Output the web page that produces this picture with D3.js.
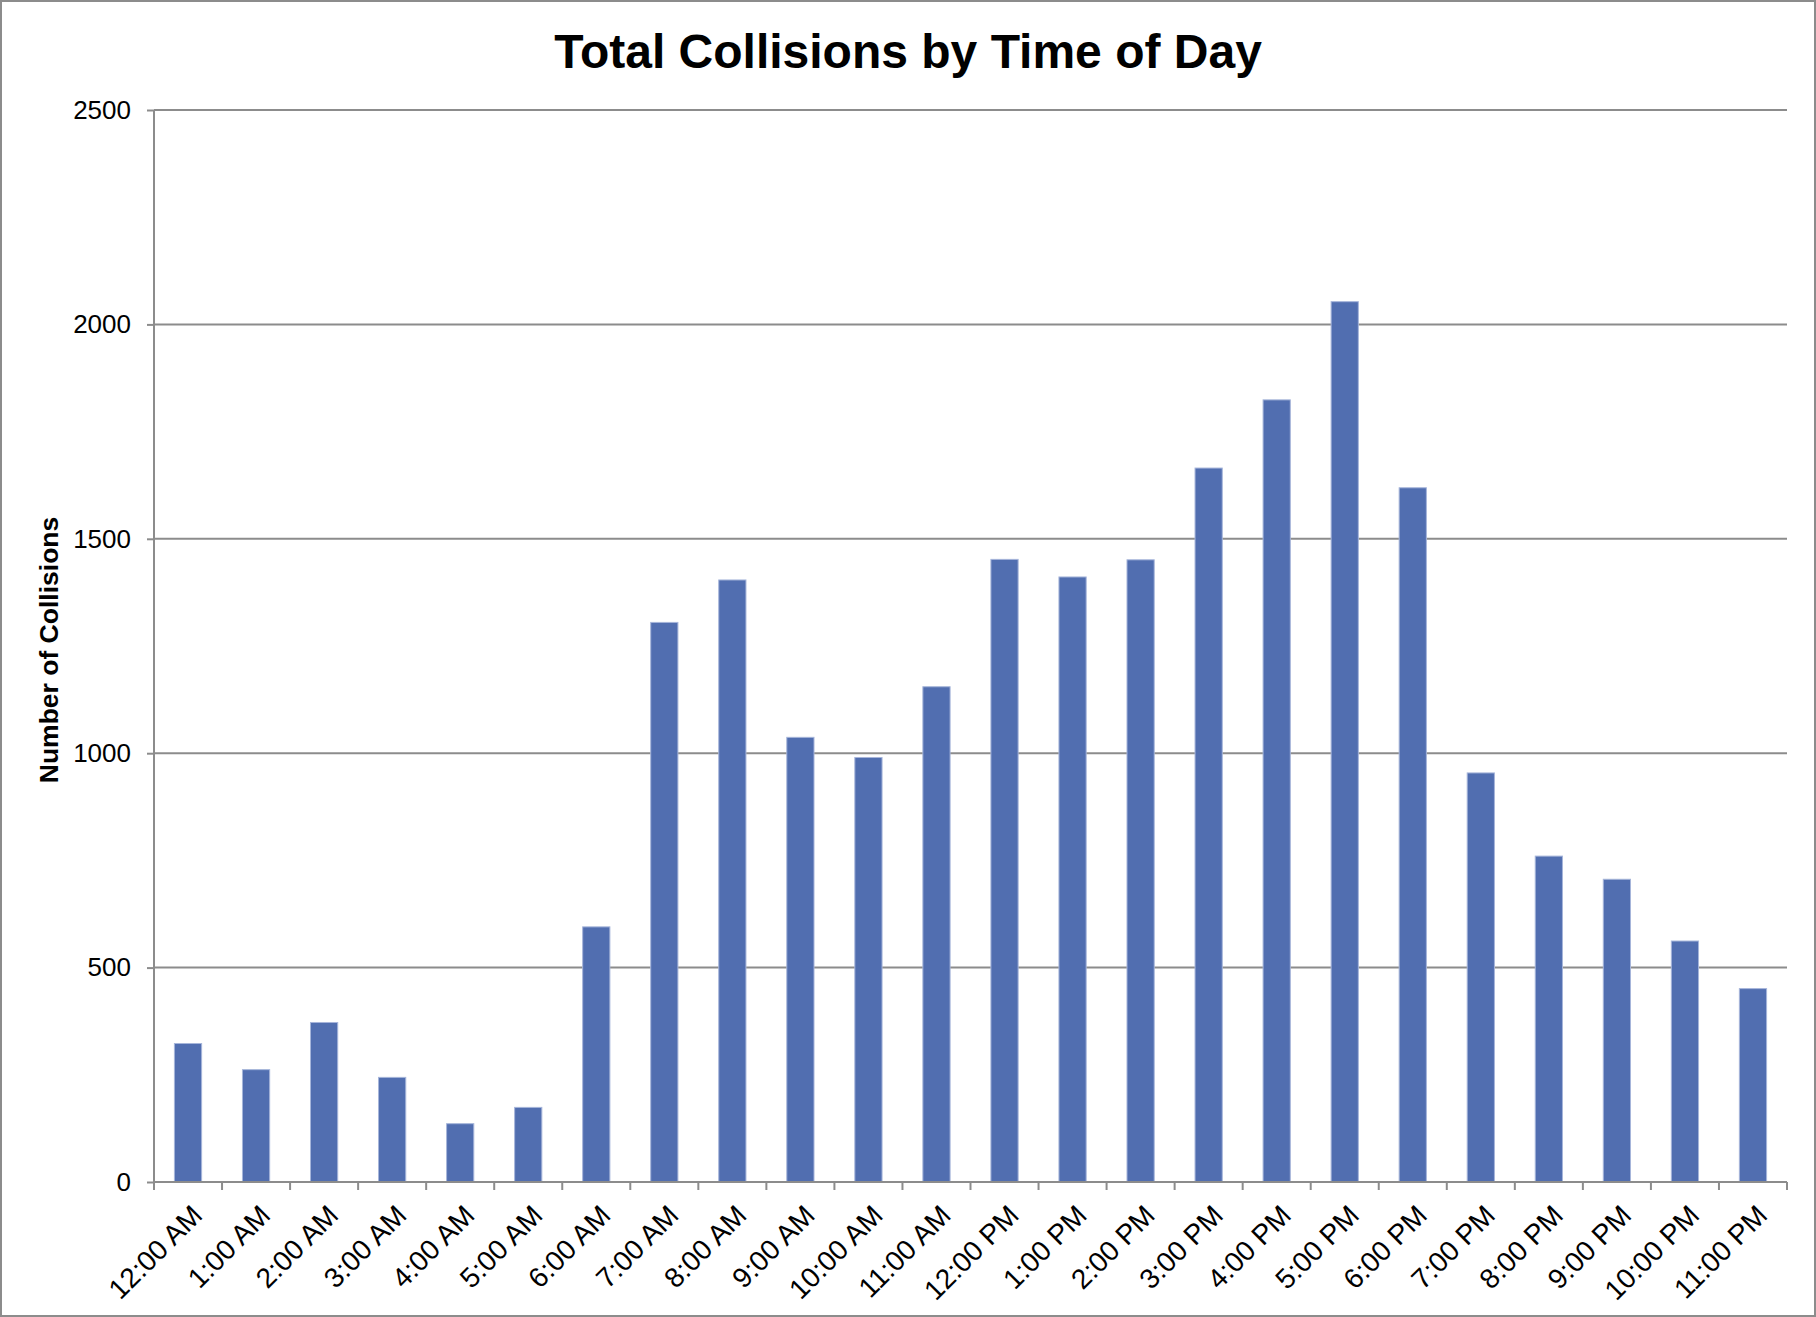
<!DOCTYPE html>
<html>
<head>
<meta charset="utf-8">
<script src="https://cdn.jsdelivr.net/npm/d3@7"></script>
<style>
  body { margin: 0; background: #fff; }
  svg { display: block; font-family: "Liberation Sans", Arial, sans-serif; }
  .axis text { fill: #000; }
</style>
</head>
<body>
<div id="chart"></div>
<script>
const hours = [
  "12:00 AM", "1:00 AM", "2:00 AM", "3:00 AM", "4:00 AM", "5:00 AM",
  "6:00 AM", "7:00 AM", "8:00 AM", "9:00 AM", "10:00 AM", "11:00 AM",
  "12:00 PM", "1:00 PM", "2:00 PM", "3:00 PM", "4:00 PM", "5:00 PM",
  "6:00 PM", "7:00 PM", "8:00 PM", "9:00 PM", "10:00 PM", "11:00 PM"
];
const collisions = [
  323, 262, 372, 244, 136, 174,
  595, 1305, 1404, 1037, 990, 1155,
  1452, 1411, 1451, 1665, 1824, 2053,
  1619, 954, 760, 706, 562, 451
];
const yTicks = [0, 500, 1000, 1500, 2000, 2500];

class BarChart {
  constructor(_config, _data) {
    this.config = {
      parentElement: _config.parentElement,
      containerWidth: _config.containerWidth || 1816,
      containerHeight: _config.containerHeight || 1317,
      margin: _config.margin || { top: 110, right: 29, bottom: 135, left: 154 },
      title: _config.title || "",
      yLabel: _config.yLabel || ""
    };
    this.data = _data;
    this.initVis();
  }

  initVis() {
    let vis = this;

    vis.width = vis.config.containerWidth - vis.config.margin.left - vis.config.margin.right;
    vis.height = vis.config.containerHeight - vis.config.margin.top - vis.config.margin.bottom;

    vis.xScale = d3.scaleBand().range([0, vis.width]).padding(0);
    vis.yScale = d3.scaleLinear().range([vis.height, 0]);

    vis.svg = d3.select(vis.config.parentElement)
      .append("svg")
      .attr("width", vis.config.containerWidth)
      .attr("height", vis.config.containerHeight);

    // outer frame
    vis.svg.append("rect")
      .attr("x", 1).attr("y", 1)
      .attr("width", vis.config.containerWidth - 2)
      .attr("height", vis.config.containerHeight - 2)
      .attr("fill", "#fff")
      .attr("stroke", "#8c8c8c")
      .attr("stroke-width", 2);

    vis.chart = vis.svg.append("g")
      .attr("transform", `translate(${vis.config.margin.left},${vis.config.margin.top})`);

    vis.gridG = vis.chart.append("g").attr("class", "grid");
    vis.barsG = vis.chart.append("g").attr("class", "bars");
    vis.xAxisG = vis.chart.append("g")
      .attr("class", "axis x-axis")
      .attr("transform", `translate(0,${vis.height})`);
    vis.yAxisG = vis.chart.append("g").attr("class", "axis y-axis");

    vis.svg.append("text")
      .attr("x", vis.config.containerWidth / 2)
      .attr("y", 68)
      .attr("text-anchor", "middle")
      .attr("font-size", 48)
      .attr("font-weight", "bold")
      .text(vis.config.title);

    vis.svg.append("text")
      .attr("transform", "rotate(-90)")
      .attr("x", -650)
      .attr("y", 58)
      .attr("text-anchor", "middle")
      .attr("font-size", 26.5)
      .attr("font-weight", "bold")
      .text(vis.config.yLabel);

    vis.updateVis();
  }

  updateVis() {
    let vis = this;
    vis.xScale.domain(vis.data.map(d => d.hour));
    vis.yScale.domain([0, d3.max(yTicks)]);
    vis.renderVis();
  }

  renderVis() {
    let vis = this;
    const bw = vis.xScale.bandwidth() * 0.4;

    // horizontal gridlines
    vis.gridG.selectAll("line")
      .data(yTicks.filter(d => d > 0))
      .join("line")
      .attr("x1", 0)
      .attr("x2", vis.width)
      .attr("y1", d => vis.yScale(d))
      .attr("y2", d => vis.yScale(d))
      .attr("stroke", "#8c8c8c")
      .attr("stroke-width", 2);

    vis.barsG.selectAll("rect")
      .data(vis.data)
      .join("rect")
      .attr("x", d => vis.xScale(d.hour) + (vis.xScale.bandwidth() - bw) / 2)
      .attr("width", bw)
      .attr("y", d => vis.yScale(d.value))
      .attr("height", d => vis.height - vis.yScale(d.value))
      .attr("fill", "#516eb0")
      .attr("stroke", "#a6b5da")
      .attr("stroke-width", 1);

    // y axis
    vis.yAxisG.call(d3.axisLeft(vis.yScale).tickValues(yTicks).tickSize(7).tickPadding(16).tickFormat(d3.format("d")));
    vis.yAxisG.selectAll("text").attr("font-size", 26).attr("font-family", null);
    vis.yAxisG.selectAll("line, path").attr("stroke", "#8c8c8c").attr("stroke-width", 2);
    vis.yAxisG.select("path").attr("d", `M0,${vis.height}V0`);

    // x axis: ticks on category boundaries
    vis.xAxisG.call(d3.axisBottom(vis.xScale).tickSize(0).tickSizeOuter(0));
    vis.xAxisG.select("path").attr("stroke", "#8c8c8c").attr("stroke-width", 2)
      .attr("d", `M0,0H${vis.width}`);
    vis.xAxisG.selectAll(".tick text")
      .attr("font-size", 28)
      .attr("font-family", null)
      .attr("text-anchor", "end")
      .attr("dy", null)
      .attr("y", null)
      .attr("transform", "translate(16,35) rotate(-45)");

    const bounds = vis.xScale.domain().map(d => vis.xScale(d)).concat([vis.width]);
    vis.xAxisG.selectAll(".boundary")
      .data(bounds)
      .join("line")
      .attr("class", "boundary")
      .attr("x1", d => d).attr("x2", d => d)
      .attr("y1", 0).attr("y2", 8)
      .attr("stroke", "#8c8c8c")
      .attr("stroke-width", 2);
  }
}

const data = hours.map((h, i) => ({ hour: h, value: collisions[i] }));

new BarChart({
  parentElement: "#chart",
  title: "Total Collisions by Time of Day",
  yLabel: "Number of Collisions"
}, data);
</script>
</body>
</html>
